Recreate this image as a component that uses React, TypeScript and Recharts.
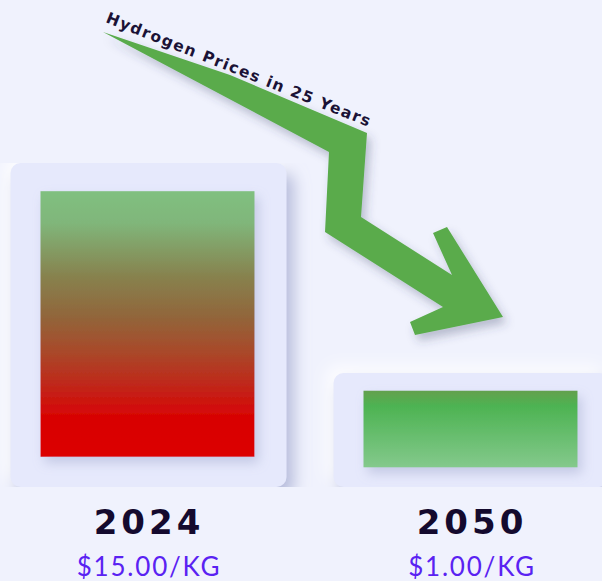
import React from "react";
import { Bar, BarChart, Customized, XAxis, YAxis } from "recharts";

const years = [2024, 2050];
const prices = [15, 1];
const title = "Hydrogen Prices in 25 Years";

const data = years.map((year, i) => ({ year, price: prices[i] }));

const BG = "#f0f2fd";
const CARD = "#e6e9fc";

// decorative arrow outline
const arrowPoints = [
  [103, 32], [230, 75], [367, 133], [361, 217], [452, 275], [433, 233],
  [447, 227], [503, 317], [415, 335], [410, 322], [443, 307], [325, 232],
  [329, 152],
];

const Decor = () => (
  <g>
    <defs>
      <linearGradient id="grad2024" x1="0" y1="0" x2="0" y2="1">
        <stop offset="0%" stopColor="#80c080" />
        <stop offset="12%" stopColor="#80b67a" />
        <stop offset="32%" stopColor="#87824e" />
        <stop offset="47%" stopColor="#91663b" />
        <stop offset="60%" stopColor="#a84a2a" />
        <stop offset="73%" stopColor="#c0271a" />
        <stop offset="85%" stopColor="#d80404" />
        <stop offset="100%" stopColor="#dc0000" />
      </linearGradient>
      <linearGradient id="grad2050" x1="0" y1="0" x2="0" y2="1">
        <stop offset="0%" stopColor="#64a04e" />
        <stop offset="20%" stopColor="#4db352" />
        <stop offset="100%" stopColor="#84c98c" />
      </linearGradient>
      <filter id="neu" x="-30%" y="-30%" width="160%" height="160%">
        <feGaussianBlur in="SourceAlpha" stdDeviation="8" result="blur" />
        <feOffset in="blur" dx="7" dy="10" result="darkOff" />
        <feFlood floodColor="#adb3d6" floodOpacity="0.9" />
        <feComposite in2="darkOff" operator="in" result="dark" />
        <feOffset in="blur" dx="-7" dy="-7" result="lightOff" />
        <feFlood floodColor="#ffffff" floodOpacity="0.9" />
        <feComposite in2="lightOff" operator="in" result="light" />
        <feMerge>
          <feMergeNode in="light" />
          <feMergeNode in="dark" />
          <feMergeNode in="SourceGraphic" />
        </feMerge>
      </filter>
      <filter id="inner" x="-20%" y="-20%" width="140%" height="160%">
        <feDropShadow dx="4" dy="6" stdDeviation="6" floodColor="#9aa0c8" floodOpacity="0.45" />
      </filter>
      <filter id="arrowShadow" x="-20%" y="-20%" width="140%" height="140%">
        <feDropShadow dx="4" dy="6" stdDeviation="5" floodColor="#3a3f66" floodOpacity="0.3" />
      </filter>
    </defs>
    <polygon
      points={arrowPoints.map((p) => p.join(",")).join(" ")}
      fill="#5aab4c"
      filter="url(#arrowShadow)"
    />
    <text
      x={105}
      y={22}
      transform="rotate(21.7 105 22)"
      fontFamily="'DejaVu Sans', sans-serif"
      fontWeight={700}
      fontSize={15.5}
      fill="#1b1236"
      textLength={283}
      lengthAdjust="spacing"
    >
      {title}
    </text>
  </g>
);

const CardBar = (props: any) => {
  const { x, y, width, height, index } = props;
  const padX = 30;
  const padTop = 12 + height * 0.05;
  const padBottom = padTop + 2;
  return (
    <g>
      <rect x={x} y={y} width={width} height={height} rx={10} fill={CARD} filter="url(#neu)" />
      <rect
        x={x + padX}
        y={y + padTop}
        width={width - padX * 2 - 2}
        height={height - padTop - padBottom}
        fill={`url(#grad${years[index]})`}
        filter="url(#inner)"
      />
    </g>
  );
};

const YearTick = (props: any) => {
  const { x, y, payload } = props;
  const i = years.indexOf(payload.value);
  return (
    <g>
      <text
        x={x + 1}
        y={y + 47}
        textAnchor="middle"
        fontFamily="'DejaVu Sans', sans-serif"
        fontWeight={700}
        fontSize={34}
        letterSpacing={4}
        fill="#140a2e"
      >
        {payload.value}
      </text>
      <text
        x={x + 1}
        y={y + 89}
        textAnchor="middle"
        fontFamily="Lato, sans-serif"
        fontWeight={400}
        fontSize={26}
        letterSpacing={1.8}
        fill="#5a22f2"
      >
        {`$${prices[i].toFixed(2)}/KG`}
      </text>
    </g>
  );
};

export default function App() {
  return (
    <div
      style={{
        position: "absolute",
        left: 0,
        top: 0,
        width: 602,
        height: 581,
        overflow: "hidden",
        background: BG,
      }}
    >
      <BarChart
        width={602}
        height={581}
        data={data}
        margin={{ top: 163, right: 0, bottom: 0, left: 0 }}
      >
        <XAxis
          dataKey="year"
          type="number"
          domain={[2012.087, 2060.545]}
          allowDataOverflow
          ticks={years}
          axisLine={false}
          tickLine={false}
          tickSize={0}
          tickMargin={0}
          height={94}
          tick={<YearTick />}
        />
        <YAxis hide type="number" scale="log" domain={[0.23, 15]} allowDataOverflow />
        <Customized component={Decor} />
        <Bar dataKey="price" barSize={276} shape={<CardBar />} isAnimationActive={false} />
      </BarChart>
    </div>
  );
}
